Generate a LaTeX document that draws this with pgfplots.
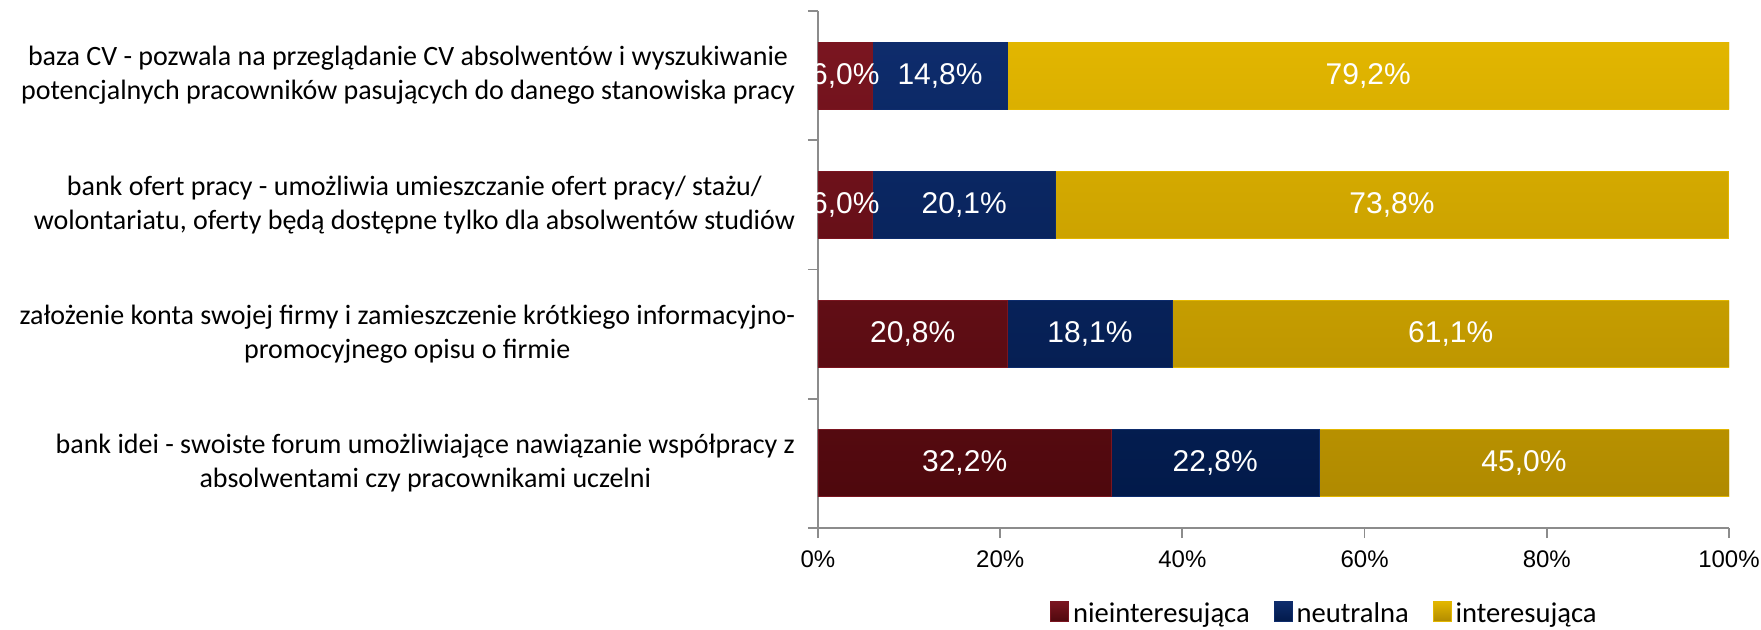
\documentclass[border=0pt]{standalone}
\usepackage{pgfplots}
\usepackage{pgfplotstable}
\pgfplotsset{compat=1.18}
\usepackage{fontspec}
\setmainfont{Carlito}
\newfontfamily\arialf{Liberation Sans}
\definecolor{redA}{HTML}{7A1520}
\definecolor{redB}{HTML}{4E080D}
\definecolor{blueA}{HTML}{0E2C6C}
\definecolor{blueB}{HTML}{021A4A}
\definecolor{goldA}{HTML}{E2B600}
\definecolor{goldB}{HTML}{B08A00}
\definecolor{axgray}{HTML}{8C8C8C}
\pgfplotstableread{
y a b c
1 6.0 14.8 79.2
2 6.0 20.1 73.8
3 20.8 18.1 61.1
4 32.2 22.8 45.0
}\data
\pgfplotsset{lbl/.style={every node near coord/.style={anchor=center, text=white,
     font=\arialf\fontsize{15}{18}\selectfont}}}
\begin{document}
\begin{tikzpicture}
\begin{axis}[
  scale only axis,
  width=455.5pt, height=258.5pt,
  xbar stacked,
  bar width=33.5pt,
  xmin=0, xmax=100,
  ymin=0.5, ymax=4.5,
  y dir=reverse,
  axis x line*=bottom,
  axis y line*=left,
  axis line style={axgray, line width=0.9pt},
  xtick={0,20,40,60,80,100},
  xticklabels={0\%,20\%,40\%,60\%,80\%,100\%},
  xticklabel style={font=\arialf\fontsize{12}{14}\selectfont, yshift=-8pt},
  ytick={1,2,3,4},
  minor ytick={0.5,1.5,2.5,3.5,4.5},
  major tick length=0pt,
  minor tick length=5pt,
  tick align=outside,
  tick style={axgray, line width=0.9pt},
  extra x ticks={0,20,40,60,80,100},
  extra x tick labels={},
  extra x tick style={major tick length=5pt},
  yticklabels={{baza CV - pozwala na przeglądanie CV absolwentów i wyszukiwanie\\potencjalnych pracowników pasujących do danego stanowiska pracy},
    {bank ofert pracy -  umożliwia umieszczanie ofert pracy/ stażu/\\wolontariatu, oferty będą dostępne tylko dla absolwentów studiów},
    {założenie konta swojej firmy i zamieszczenie krótkiego informacyjno-\\promocyjnego opisu o firmie},
    {bank idei - swoiste forum umożliwiające nawiązanie współpracy z\\absolwentami czy pracownikami uczelni}},
  yticklabel style={align=center, font=\fontsize{14}{17}\selectfont, xshift=-8pt},
  nodes near coords={\pgfmathprintnumber[fixed, fixed zerofill, precision=1, use comma, assume math mode=true]{\pgfplotspointmeta}\%},
  legend style={at={(0.557,-0.166)}, anchor=center, draw=none,
     font=\fontsize{14.3}{16}\selectfont, legend columns=-1,
     /tikz/every even column/.append style={column sep=10pt}},
  legend image code/.code={\path[#1] (0pt,-4pt) rectangle (9pt,6pt);},
]
\addplot[draw=redA, top color=redA, bottom color=redB,
  point meta=\thisrow{a}, lbl]
  table[x=a, y=y] {\data};
\addplot[draw=blueA, top color=blueA, bottom color=blueB,
  point meta=\thisrow{b}, lbl]
  table[x=b, y=y] {\data};
\addplot[draw=goldA, top color=goldA, bottom color=goldB,
  point meta=\thisrow{c}, lbl]
  table[x=c, y=y] {\data};
\legend{nieinteresująca, neutralna, interesująca}
\end{axis}
\pgfresetboundingbox
\useasboundingbox (-409pt,-51pt) rectangle (471.5pt,264pt);
\end{tikzpicture}
\end{document}
